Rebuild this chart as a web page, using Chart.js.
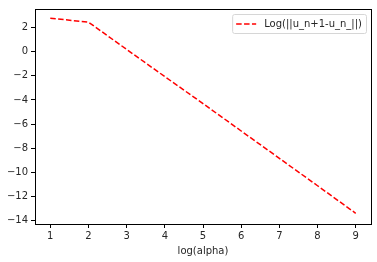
<!DOCTYPE html>
<html lang="en">
<head>
<meta charset="UTF-8">
<title>log(alpha)</title>
<script src="https://cdn.jsdelivr.net/npm/chart.js"></script>
<style>
  body { margin: 0; background: #fff; }
  #wrap { width: 377px; height: 262px; }
</style>
</head>
<body>
<div id="wrap"><canvas id="chart"></canvas></div>
<script>
// values
const alphaLog = [1, 2, 3, 4, 5, 6, 7, 8, 9];
const diffLog = [2.79, 2.47, 0.2, -2.06, -4.3, -6.58, -8.85, -11.13, -13.42];
const xTicks = [1, 2, 3, 4, 5, 6, 7, 8, 9];
const yTicks = [2, 0, -2, -4, -6, -8, -10, -12, -14];
const seriesLabel = 'Log(||u_n+1-u_n_||)';
const xTitle = 'log(alpha)';

const font = { family: 'DejaVu Sans', size: 10 };
const textColor = '#262626';

// full box around the plot, like matplotlib spines
const frame = {
    id: 'frame',
    afterDatasetsDraw(chart) {
        const { ctx, chartArea: a } = chart;
        ctx.save();
        ctx.strokeStyle = '#000';
        ctx.lineWidth = 1;
        ctx.strokeRect(Math.round(a.left) + 0.5, Math.round(a.top) + 0.5,
            Math.round(a.right - a.left), Math.round(a.bottom - a.top));
        ctx.restore();
    }
};

// legend inside the top right corner
const innerLegend = {
    id: 'innerLegend',
    afterDraw(chart) {
        const { ctx, chartArea: a } = chart;
        const ds = chart.data.datasets[0];
        ctx.save();
        ctx.font = font.size + 'px ' + font.family;
        const tw = ctx.measureText(ds.label).width;
        const w = 4 + 20 + 8 + tw + 4;
        const h = 19;
        const x = a.right - 5 - w;
        const y = a.top + 5;
        ctx.beginPath();
        ctx.roundRect(x + 0.5, y + 0.5, w, h, 2);
        ctx.fillStyle = 'rgba(255,255,255,0.8)';
        ctx.fill();
        ctx.strokeStyle = '#d6d6d6';
        ctx.lineWidth = 1;
        ctx.stroke();
        const my = y + h / 2 + 0.5;
        ctx.beginPath();
        ctx.setLineDash(ds.borderDash);
        ctx.strokeStyle = ds.borderColor;
        ctx.lineWidth = ds.borderWidth;
        ctx.moveTo(x + 4, my);
        ctx.lineTo(x + 24, my);
        ctx.stroke();
        ctx.setLineDash([]);
        ctx.fillStyle = textColor;
        ctx.textBaseline = 'middle';
        ctx.fillText(ds.label, x + 32, my);
        ctx.restore();
    }
};

new Chart(document.getElementById('chart'), {
    type: 'line',
    data: {
        datasets: [{
            label: seriesLabel,
            data: alphaLog.map((v, i) => ({ x: v, y: diffLog[i] })),
            borderColor: '#ff0000',
            borderWidth: 1.5,
            borderDash: [5.5, 2.4],
            pointRadius: 0,
            fill: false,
            tension: 0
        }]
    },
    options: {
        responsive: true,
        maintainAspectRatio: false,
        animation: false,
        layout: { padding: { left: 0, right: 6, top: 6, bottom: 0 } },
        plugins: {
            legend: { display: false },
            tooltip: { enabled: false }
        },
        scales: {
            x: {
                type: 'linear',
                min: 0.6,
                max: 9.4,
                afterBuildTicks: s => { s.ticks = xTicks.map(v => ({ value: v })); },
                afterFit: s => { s.height = 38; },
                grid: { drawOnChartArea: false, drawTicks: true, tickLength: 4, color: '#000' },
                border: { display: false },
                ticks: { color: textColor, font: font, padding: 2, maxRotation: 0, autoSkip: false },
                title: { display: true, text: xTitle, color: textColor, font: font, padding: { top: 0, bottom: 5 } }
            },
            y: {
                type: 'linear',
                min: -14.31,
                max: 3.56,
                afterBuildTicks: s => { s.ticks = yTicks.map(v => ({ value: v })); },
                afterFit: s => { s.width = 35; },
                grid: { drawOnChartArea: false, drawTicks: true, tickLength: 4, color: '#000' },
                border: { display: false },
                ticks: {
                    color: textColor, font: font, padding: 3, autoSkip: false,
                    callback: v => String(v).replace('-', '\u2212')
                }
            }
        }
    },
    plugins: [frame, innerLegend]
});
</script>
</body>
</html>
